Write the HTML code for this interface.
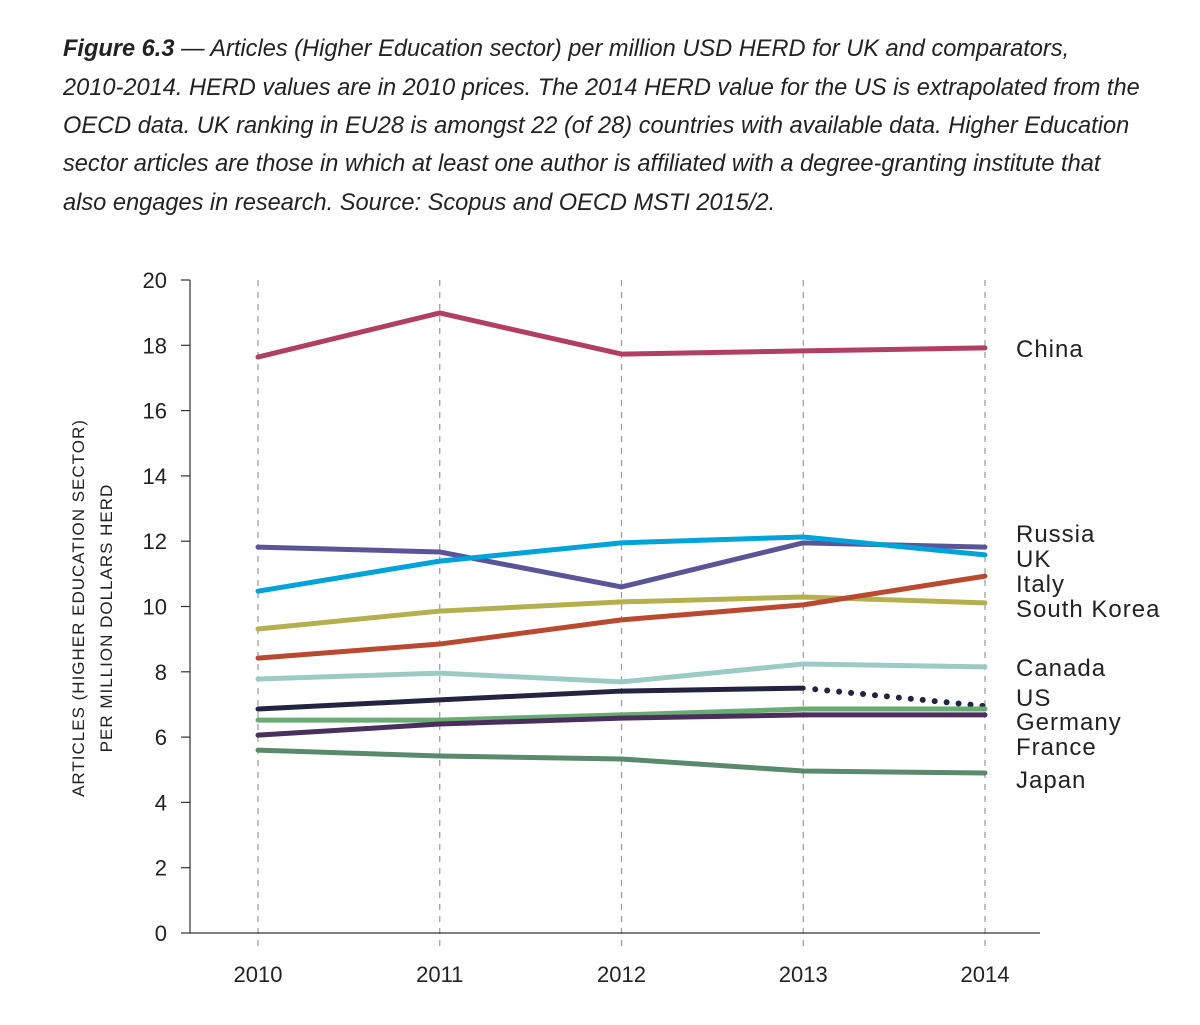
<!DOCTYPE html>
<html><head><meta charset="utf-8"><style>
html,body{margin:0;padding:0;background:#fff;}
svg{display:block;}
text{font-family:"Liberation Sans",sans-serif;}
</style></head><body>
<svg id="chart" width="1200" height="1025" viewBox="0 0 1200 1025">
<g font-style="italic" font-size="23.6" fill="#222">
<text x="63" y="56"><tspan font-weight="bold">Figure 6.3</tspan>  —  Articles (Higher Education sector) per million USD HERD for UK and comparators,</text>
<text x="63" y="95">2010-2014. HERD values are in 2010 prices. The 2014 HERD value for the US is extrapolated from the</text>
<text x="63" y="133">OECD data. UK ranking in EU28 is amongst 22 (of 28) countries with available data. Higher Education</text>
<text x="63" y="171">sector articles are those in which at least one author is affiliated with a degree-granting institute that</text>
<text x="63" y="210">also engages in research. Source: Scopus and OECD MSTI 2015/2.</text>
</g>
<g font-size="17" fill="#222" letter-spacing="1">
<text transform="translate(84,608) rotate(-90)" text-anchor="middle">ARTICLES (HIGHER EDUCATION SECTOR)</text>
<text transform="translate(112,618) rotate(-90)" text-anchor="middle">PER MILLION DOLLARS HERD</text>
</g>
<g id="grid"></g><g id="axes"></g><g id="series"></g><g id="labels"></g>
</svg>
<script>
const years = ["2010","2011","2012","2013","2014"];
const yTicks = [0,2,4,6,8,10,12,14,16,18,20];
const seriesNames = ["China","Russia","UK","South Korea","Italy","Canada","US","Germany","France","Japan"];
const china = [17.64,18.99,17.73,17.83,17.92];
const russia = [11.82,11.67,10.6,11.95,11.82];
const uk = [10.47,11.39,11.95,12.13,11.58];
const southKorea = [9.31,9.86,10.14,10.29,10.11];
const italy = [8.42,8.85,9.59,10.05,10.93];
const canada = [7.78,7.96,7.69,8.24,8.15];
const us = [6.86,7.14,7.41,7.50,6.95];
const germany = [6.52,6.52,6.68,6.86,6.86];
const france = [6.06,6.40,6.58,6.68,6.68];
const japan = [5.6,5.42,5.33,4.96,4.9];
const labelYs = [349,534,559,609,584,668,698,722,747,780];
const values = [china,russia,uk,southKorea,italy,canada,us,germany,france,japan];
const colors = ["#b03f62","#5a5596","#00a3d9","#b5b04f","#b94a2f","#9ccbc6","#232342","#6aaa73","#4a2e5c","#5a8a6c"];
const NS="http://www.w3.org/2000/svg";
const X=i=>258+i*181.75;
const Y=v=>933-v*32.65;
function mk(tag,attrs,parent){const e=document.createElementNS(NS,tag);for(const k in attrs)e.setAttribute(k,attrs[k]);document.getElementById(parent).appendChild(e);return e;}
years.forEach((yr,i)=>{
  const g=mk('line',{x1:X(i),x2:X(i),y1:280,y2:948,stroke:'#999','stroke-width':1.2,'stroke-dasharray':'6,6'},'grid');
  
  
  const t=mk('text',{x:X(i),y:982,'text-anchor':'middle','font-size':22,fill:'#222'},'axes');
  t.textContent=yr;
  
  
});
const xa=mk('line',{x1:190,x2:1040,y1:933,y2:933,stroke:'#333','stroke-width':1.2},'axes');


const ya=mk('line',{x1:190,x2:190,y1:280,y2:933,stroke:'#333','stroke-width':1.2},'axes');


yTicks.forEach(v=>{
  const tk=mk('line',{x1:181,x2:190,y1:Y(v),y2:Y(v),stroke:'#333','stroke-width':1.2},'axes');
  
  
  const t=mk('text',{x:167,y:Y(v)+8,'text-anchor':'end','font-size':22,fill:'#222'},'axes');
  t.textContent=v;
  
  
});
values.forEach((arr,s)=>{
  const isUS=seriesNames[s]==="US";
  const n=isUS?arr.length-1:arr.length;
  let d='';
  for(let i=0;i<n;i++)d+=(i?'L':'M')+X(i)+','+Y(arr[i]);
  const p=mk('path',{d:d,fill:'none',stroke:colors[s],'stroke-width':5,'stroke-linecap':'round','stroke-linejoin':'round'},'series');
  
  
  if(isUS){
    const l=arr.length;
    const dp=mk('line',{x1:X(l-2)+12,y1:Y(arr[l-2]+(arr[l-1]-arr[l-2])*0.066),x2:X(l-1),y2:Y(arr[l-1]),stroke:colors[s],'stroke-width':6,'stroke-linecap':'round','stroke-dasharray':'0,12'},'series');
    
    
  }
  const t=mk('text',{x:1016,y:labelYs[s]+8,'font-size':24,fill:'#222','letter-spacing':1},'labels');
  t.textContent=seriesNames[s];
  
  
});
</script>
</body></html>
